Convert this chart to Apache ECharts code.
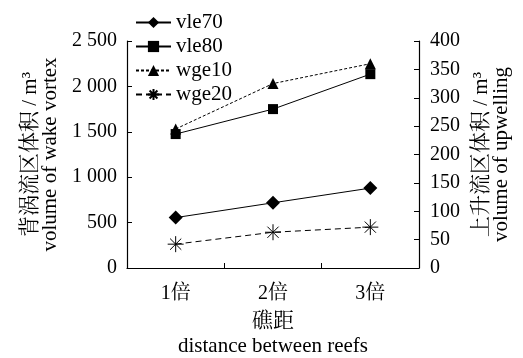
<!DOCTYPE html>
<html><head><meta charset="utf-8">
<script src="https://cdn.jsdelivr.net/npm/echarts@6/dist/echarts.min.js"></script>
<style>html,body{margin:0;padding:0;background:#fff}#c{width:523px;height:358px}</style>
</head><body><div id="c"></div>
<script>
const categories = ['1倍', '2倍', '3倍'];
const vle70 = [555, 718, 880];
const vle80 = [1475, 1750, 2135];
const wge10 = [245, 325, 360];
const wge20 = [42, 63, 72];
const leftTicks = [0, 500, 1000, 1500, 2000, 2500];
const rightTicks = [0, 50, 100, 150, 200, 250, 300, 350, 400];

const FONT = "'Liberation Serif','Noto Serif CJK SC','Noto Sans CJK SC',serif";
const star = 'path://M0,-10 L0,10 M-10,0 L10,0 M-7,-7 L7,7 M-7,7 L7,-7';
const fmtLeft = v => {
  const s = String(v);
  return s.length > 3 ? s.slice(0, s.length - 3) + ' ' + s.slice(-3) : s;
};
const chart = echarts.init(document.getElementById('c'), null, {renderer: 'canvas'});
const axisLine = {show: true, lineStyle: {color: '#000', width: 1.2}};
chart.setOption({
  animation: false,
  backgroundColor: '#fff',
  grid: {left: 127, right: 104, top: 41, bottom: 90, containLabel: false, outerBoundsMode: 'none'},
  legend: {
    orient: 'vertical', left: 130, top: 7, itemGap: 3, itemWidth: 35, itemHeight: 14,
    textStyle: {fontFamily: FONT, fontSize: 21, color: '#000'},
    data: ['vle70', 'vle80', 'wge10', 'wge20']
  },
  xAxis: {
    type: 'category', data: categories, boundaryGap: true,
    axisLine: axisLine,
    axisTick: {show: true, inside: true, length: 5, lineStyle: {color: '#000'}},
    axisLabel: {fontFamily: FONT, fontSize: 20, color: '#000', margin: 16},
    name: '礁距\ndistance between reefs', nameLocation: 'middle', nameGap: 40,
    nameTextStyle: {fontFamily: FONT, fontSize: 21, color: '#000', lineHeight: 25, verticalAlign: 'top'}
  },
  yAxis: [{
    type: 'value', min: 0, max: 2500, interval: 500,
    axisLine: axisLine,
    axisTick: {show: true, inside: true, length: 5, lineStyle: {color: '#000'}},
    splitLine: {show: false},
    axisLabel: {fontFamily: FONT, fontSize: 20, color: '#000', margin: 10, formatter: fmtLeft},
    name: '背涡流区体积 / m³\nvolume of wake vortex', nameLocation: 'middle', nameGap: 66, nameRotate: 90,
    nameTextStyle: {fontFamily: FONT, fontSize: 21, color: '#000', lineHeight: 20}
  }, {
    type: 'value', min: 0, max: 400, interval: 50, position: 'right',
    axisLine: axisLine,
    axisTick: {show: true, inside: true, length: 5, lineStyle: {color: '#000'}},
    splitLine: {show: false},
    axisLabel: {fontFamily: FONT, fontSize: 20, color: '#000', margin: 11},
    name: '上升流区体积 / m³\nvolume of upwelling', nameLocation: 'middle', nameGap: 48, nameRotate: 90,
    nameTextStyle: {fontFamily: FONT, fontSize: 21, color: '#000', lineHeight: 20}
  }],
  series: [
    {name: 'vle70', type: 'line', yAxisIndex: 0, data: vle70, symbol: 'diamond', symbolSize: 14,
     lineStyle: {color: '#000', width: 1}, itemStyle: {color: '#000'}},
    {name: 'vle80', type: 'line', yAxisIndex: 0, data: vle80, symbol: 'rect', symbolSize: 10,
     lineStyle: {color: '#000', width: 1}, itemStyle: {color: '#000'}},
    {name: 'wge10', type: 'line', yAxisIndex: 1, data: wge10, symbol: 'triangle', symbolSize: 11,
     lineStyle: {color: '#000', width: 1, type: [3, 2]}, itemStyle: {color: '#000'}},
    {name: 'wge20', type: 'line', yAxisIndex: 1, data: wge20, symbol: star, symbolSize: 16,
     lineStyle: {color: '#000', width: 1, type: [6, 4]},
     itemStyle: {color: 'rgba(0,0,0,0)', borderColor: '#000', borderWidth: 1}}
  ]
});
</script></body></html>
